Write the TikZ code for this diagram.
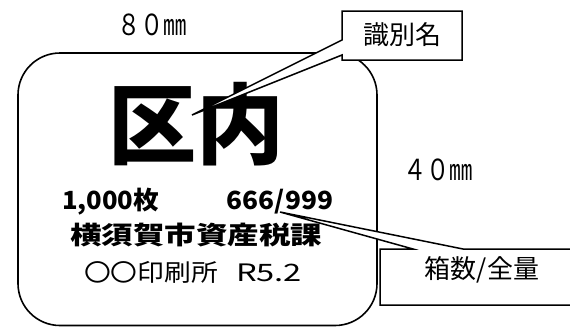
\documentclass[tikz,border=0pt]{standalone}
\usepackage{fontspec}
\usepackage{graphicx}
\newfontfamily\jp{Noto Sans CJK JP}
\newcommand\fitw[2]{\resizebox{#1}{\height}{#2}}
\begin{document}
\begin{tikzpicture}[x=1pt,y=-1pt,
  frame/.style={draw=black, line width=1.6pt},
  callout/.style={draw=black, fill=white, line width=1.5pt, line join=miter},
  every node/.style={inner sep=0pt, outer sep=0pt, text=black},
  dim/.style={font=\jp\fontsize{29}{29}\selectfont},
  big/.style={font=\jp\bfseries\fontsize{88}{88}\selectfont},
  row/.style={font=\jp\bfseries\fontsize{25}{25}\selectfont},
  rowlight/.style={font=\jp\fontsize{24}{24}\selectfont},
  label/.style={font=\jp\fontsize{26}{26}\selectfont}]
\useasboundingbox (0,0) rectangle (570,327);
% label frame
\draw[frame, rounded corners=42pt] (18,53) rectangle (377,325.5);
% dimensions
\node[dim] (w) at (152,25) {\fitw{70pt}{８０㎜}};
\node[dim] (h) at (438,170) {\fitw{70pt}{４０㎜}};
% contents
\node[big] (title) at (196,124) {区内};
\node[row, anchor=base west] (qty) at (62,209) {\fitw{97pt}{1,000枚}};
\node[row, anchor=base east] (boxno) at (333,209) {\fitw{106pt}{666/999}};
\node[row, anchor=base] (dept) at (196,244) {\fitw{252pt}{横須賀市資産税課}};
\node[rowlight, anchor=base west] (printer) at (84,281) {\fitw{134pt}{〇〇印刷所}};
\node[rowlight, anchor=base west] (ver) at (236,281) {\fitw{66pt}{R5.2}};
% callout 1
\coordinate (t1) at (192,115);
\draw[callout] (342,11) -- (462,11) -- (462,60) -- (342,60) -- (342,55) -- (t1) -- (342,40) -- cycle;
\node[label] (idname) at (402,35) {識別名};
% callout 2
\coordinate (t2) at (280,212);
\begin{scope}
\clip (0,0) rectangle (570,327);
\draw[callout] (380,249) -- (413,249) -- (t2) -- (463,249) -- (600,249) -- (600,305) -- (380,305) -- cycle;
\end{scope}
\node[label] (count) at (482,270) {箱数/全量};
\end{tikzpicture}
\end{document}
